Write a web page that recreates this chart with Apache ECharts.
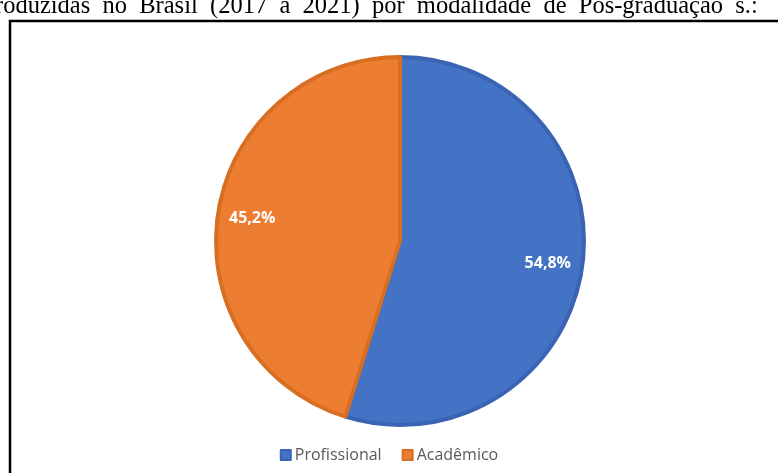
<!DOCTYPE html>
<html>
<head>
<meta charset="utf-8">
<script src="https://cdn.jsdelivr.net/npm/echarts@6/dist/echarts.min.js"></script>
<style>html,body{margin:0;padding:0;background:#fff;}#c{width:778px;height:473px;}</style>
</head>
<body>
<div id="c"></div>
<script>
const categories = ['Profissional', 'Acadêmico'];
const values = [54.8, 45.2];
const labels = ['54,8%', '45,2%'];
const colors = ['#4472C4', '#ED7D31'];
const borderColors = ['#3A64B3', '#D86E22'];
const headerText = 'roduzidas no Brasil (2017 a 2021) por modalidade de Pós-graduação s.:';

const chart = echarts.init(document.getElementById('c'));
const data = categories.map((c, i) => ({
  name: c, value: values[i],
  itemStyle: { color: colors[i], borderColor: borderColors[i], borderWidth: 4 }
}));
const labelData = categories.map((c, i) => ({
  name: c, value: values[i], label: { formatter: labels[i] }
}));
chart.setOption({
  animation: false,
  graphic: [
    { type: 'text', left: -5, top: -6, style: { text: headerText.split(' ').join('  '), font: '24.5px "Liberation Serif"', fill: '#000' } },
    { type: 'rect', shape: { x: 10, y: 21, width: 800, height: 500 }, style: { fill: 'none', stroke: '#000', lineWidth: 2.5 } }
  ],
  legend: {
    bottom: 5, left: 'center', itemWidth: 10, itemHeight: 10, itemGap: 20,
    icon: 'rect',
    textStyle: { color: '#595959', fontSize: 16, fontFamily: 'Open Sans', padding: [0, 0, 0, -1] },
    data: categories
  },
  series: [
    {
      type: 'pie', center: [400, 241], radius: [0, 184], startAngle: 90, clockwise: true,
      label: { show: false }, labelLine: { show: false }, data: data, silent: true
    },
    {
      type: 'pie', center: [400, 241], radius: [109, 184], startAngle: 90, clockwise: true,
      itemStyle: { color: 'rgba(0,0,0,0)' }, silent: true, legendHoverLink: false,
      label: { show: true, position: 'inside', color: '#fff', fontWeight: 'bold', fontSize: 16, fontFamily: 'Open Sans' },
      labelLine: { show: false }, data: labelData
    }
  ]
});
</script>
</body>
</html>
